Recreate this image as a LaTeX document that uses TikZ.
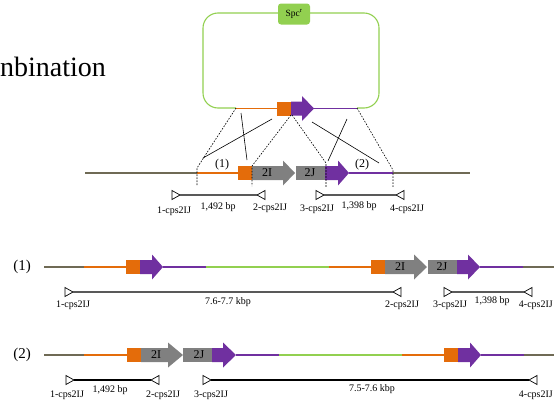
\documentclass[tikz,border=0pt]{standalone}
\usepackage{fontspec}
\setmainfont{Liberation Serif}
\definecolor{orng}{HTML}{E46C0A}
\definecolor{purp}{HTML}{7030A0}
\definecolor{gry}{HTML}{808080}
\definecolor{grn}{HTML}{92D050}
\definecolor{olv}{HTML}{6F6A55}
\newcommand{\geneArrow}[5]{\fill[#5] (#1,#4-7) -- (#2,#4-7) -- (#2,#4-12.5) -- (#3,#4) -- (#2,#4+12.5) -- (#2,#4+7) -- (#1,#4+7) -- cycle;}
\newcommand{\geneBox}[4]{\fill[#4] (#1,#3-7) rectangle (#2,#3+7);}
\newcommand{\primR}[3]{\draw[primtri] (#2,#3-4.5) -- (#2+8,#3) -- (#2,#3+4.5) -- cycle; \coordinate (#1) at (#2+8,#3);}
\newcommand{\primL}[3]{\draw[primtri] (#2+8,#3-4.5) -- (#2,#3) -- (#2+8,#3+4.5) -- cycle; \coordinate (#1) at (#2,#3);}
\begin{document}
\begin{tikzpicture}[x=1pt,y=-1pt,
  dna/.style={line width=1.8pt},
  primtri/.style={draw=black,fill=white,line width=0.7pt},
  primline/.style={line width=1.2pt,draw=#1},
  primline/.default={black!65},
  xover/.style={line width=0.6pt,black},
  dashconn/.style={line width=0.6pt,black,dash pattern=on 1.6pt off 1.4pt},
  small/.style={font=\fontsize{10}{11}\selectfont,inner sep=0pt},
  glabel/.style={font=\fontsize{12}{12}\selectfont,inner sep=0pt},
  rlabel/.style={font=\fontsize{15}{15}\selectfont,inner sep=0pt}]
\useasboundingbox (0,0) rectangle (554,407);
\clip (0,0) rectangle (554,407);

% title fragment
\node[font=\fontsize{28}{28}\selectfont,inner sep=0pt,anchor=base west] (title) at (0,76) {nbination};

% plasmid
\draw[grn,line width=1.1pt,rounded corners=15pt] (236,108) -- (203,108) -- (203,13) -- (379,13) -- (379,108) -- (357,108);
\node[fill=grn,rounded corners=3pt,minimum width=32,minimum height=21,inner sep=0pt,font=\fontsize{9.5}{9.5}\selectfont] (spc) at (294,14) {Spc\textsuperscript{r}};
\draw[orng,dna] (236,108.5) -- (277,108.5);
\geneBox{277}{291}{108.5}{orng}
\geneArrow{291}{302}{314}{108.5}{purp}
\draw[purp,dna] (314,108.5) -- (357,108.5);

% wild-type locus
\draw[olv,dna] (85,173) -- (197,173);
\draw[orng,dna] (197,173) -- (238,173);
\geneBox{238}{252}{173}{orng}
\geneArrow{252}{283}{295}{173}{gry}
\node[glabel] (mI) at (267,173) {2I};
\geneBox{296}{325}{173}{gry}
\node[glabel] (mJ) at (310,173) {2J};
\geneArrow{325}{338}{349}{173}{purp}
\draw[purp,dna] (349,173) -- (393,173);
\draw[olv,dna] (393,173) -- (470,173);
\node[glabel] (c1) at (222,165) {(1)};
\node[glabel] (c2) at (362,165) {(2)};

% connectors plasmid -> locus
\coordinate (pa) at (236,108); \coordinate (pb) at (291,115);
\coordinate (pc) at (292,115); \coordinate (pd) at (357,108);
\coordinate (ga) at (197,168); \coordinate (gb) at (252,166);
\coordinate (gc) at (326,163); \coordinate (gd) at (393,170);
\coordinate (ea) at (197,186); \coordinate (eb) at (252,186);
\coordinate (ec) at (326,187); \coordinate (ed) at (393,188);
\draw[dashconn] (pa) -- (ga) -- (ea);
\draw[dashconn] (pb) -- (gb) -- (eb);
\draw[dashconn] (pc) -- (gc) -- (ec);
\draw[dashconn] (pd) -- (gd) -- (ed);
\coordinate (xa1) at (241,113); \coordinate (xa2) at (247,160);
\coordinate (xb1) at (272,119); \coordinate (xb2) at (203,158);
\coordinate (xc1) at (312,122); \coordinate (xc2) at (379,163);
\coordinate (xd1) at (347,119); \coordinate (xd2) at (328,161);
\draw[xover] (xa1) -- (xa2);
\draw[xover] (xb1) -- (xb2);
\draw[xover] (xc1) -- (xc2);
\draw[xover] (xd1) -- (xd2);

% primers, wild type
\primR{m1}{172}{195}
\primL{m2}{257}{195}
\draw[primline] (m1) -- (m2);
\primR{m3}{316}{195}
\primL{m4}{396}{195}
\draw[primline] (m3) -- (m4);
\node[small] (m1t) at (174,211) {1-cps2IJ};
\node[small] (m12) at (218,207) {1,492 bp};
\node[small] (m2t) at (270,208) {2-cps2IJ};
\node[small] (m3t) at (317,209) {3-cps2IJ};
\node[small] (m34) at (359,206) {1,398 bp};
\node[small] (m4t) at (407,209) {4-cps2IJ};

% row (1)
\node[rlabel] (r1) at (22,267) {(1)};
\draw[olv,dna] (44,267) -- (84,267);
\draw[orng,dna] (84,267) -- (126,267);
\geneBox{126}{140}{267}{orng}
\geneArrow{140}{152}{163}{267}{purp}
\draw[purp,dna] (163,267) -- (206,267);
\draw[grn,dna] (206,267) -- (329,267);
\draw[orng,dna] (329,267) -- (371,267);
\geneBox{371}{385}{267}{orng}
\geneArrow{385}{414}{427}{267}{gry}
\node[glabel] (aI) at (400,267) {2I};
\geneBox{428}{457}{267}{gry}
\node[glabel] (aJ) at (442,267) {2J};
\geneArrow{457}{468}{480}{267}{purp}
\draw[purp,dna] (480,267) -- (523,267);
\draw[olv,dna] (523,267) -- (554,267);

\primR{a1}{65}{292}
\primL{a2}{393}{292}
\draw[primline] (a1) -- (a2);
\primR{a3}{444}{292}
\primL{a4}{524}{292}
\draw[primline] (a3) -- (a4);
\node[small] (a1t) at (73,305) {1-cps2IJ};
\node[small] (a12) at (228,302) {7.6-7.7 kbp};
\node[small] (a2t) at (402,305) {2-cps2IJ};
\node[small] (a3t) at (450,305) {3-cps2IJ};
\node[small] (a34) at (492,301) {1,398 bp};
\node[small,anchor=east] (a4t) at (553,305) {4-cps2IJ};

% row (2)
\node[rlabel] (r2) at (22,355) {(2)};
\draw[olv,dna] (44,355) -- (84,355);
\draw[orng,dna] (84,355) -- (127,355);
\geneBox{127}{141}{355}{orng}
\geneArrow{141}{168}{183}{355}{gry}
\node[glabel] (bI) at (156,355) {2I};
\geneBox{183}{212}{355}{gry}
\node[glabel] (bJ) at (199,355) {2J};
\geneArrow{212}{223}{236}{355}{purp}
\draw[purp,dna] (236,355) -- (279,355);
\draw[grn,dna] (279,355) -- (402,355);
\draw[orng,dna] (402,355) -- (444,355);
\geneBox{444}{458}{355}{orng}
\geneArrow{458}{470}{481}{355}{purp}
\draw[purp,dna] (481,355) -- (524,355);
\draw[olv,dna] (524,355) -- (554,355);

\primR{b1}{66}{380}
\primL{b2}{151}{380}
\draw[primline=black] (b1) -- (b2);
\primR{b3}{203}{380}
\primL{b4}{529}{380}
\draw[primline=black] (b3) -- (b4);
\node[small] (b1t) at (67,395) {1-cps2IJ};
\node[small] (b12) at (110,390) {1,492 bp};
\node[small] (b2t) at (163,395) {2-cps2IJ};
\node[small] (b3t) at (211,395) {3-cps2IJ};
\node[small] (b34) at (372,389) {7.5-7.6 kbp};
\node[small,anchor=east] (b4t) at (553,395) {4-cps2IJ};
\end{tikzpicture}
\end{document}
